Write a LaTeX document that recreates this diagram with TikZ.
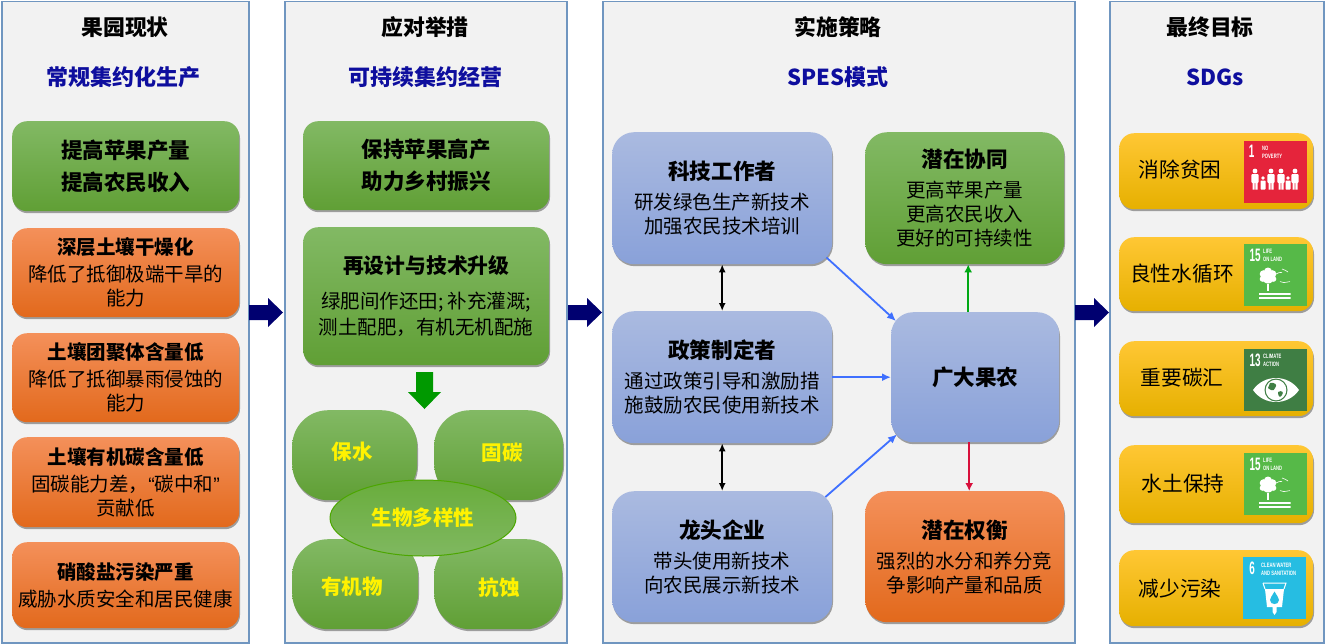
\documentclass[tikz,border=0pt]{standalone}
\usepackage{fontspec}
\setmainfont{Noto Sans CJK SC}
\newfontfamily\sdgbig[FakeStretch=0.55]{Liberation Sans}
\newfontfamily\sdgsmall[FakeStretch=0.66]{Liberation Sans}
\newfontfamily\sdgfont{Liberation Sans}
\usetikzlibrary{shadows,arrows.meta,shapes.geometric,calc}
\definecolor{panelfill}{HTML}{F2F2F2}
\definecolor{panelline}{HTML}{7096C0}
\definecolor{navyarrow}{HTML}{000070}
\definecolor{headblue}{HTML}{0E0E9E}
\definecolor{linkblue}{HTML}{3F70FF}
\definecolor{linkgreen}{HTML}{00A814}
\definecolor{linkred}{HTML}{D8103C}
\tikzset{
  panel/.style={draw=panelline,line width=1.6pt,fill=panelfill,inner sep=0pt},
  softshadow/.style={drop shadow={shadow xshift=0.8pt,shadow yshift=-2pt,opacity=.35,fill=black}},
  basebox/.style={rounded corners=15pt,softshadow,inner sep=0pt,align=center,text=black,font=\fontsize{19.5}{24}\selectfont},
  grn/.style={basebox,top color=grnT,middle color=grnM,bottom color=grnB},
  grnbig/.style={grn,font=\bfseries\fontsize{21.5}{32}\selectfont},
  org/.style={basebox,top color=orgT,middle color=orgM,bottom color=orgB},
  blu/.style={basebox,rounded corners=22pt,top color=bluT,middle color=bluM,bottom color=bluB},
  yel/.style={basebox,rounded corners=15pt,top color=yelT,middle color=yelM,bottom color=yelB},
  blob/.style={grn,rounded corners=36pt},
  title/.style={font=\bfseries\fontsize{21.8}{24}\selectfont,text=black,inner sep=0pt},
  subtitle/.style={font=\bfseries\fontsize{22}{24}\selectfont,text=headblue,inner sep=0pt},
  yeltext/.style={font=\bfseries\fontsize{20.5}{24}\selectfont,text=yellow,inner sep=0pt},
  goaltext/.style={font=\fontsize{20.7}{24}\selectfont,text=black,inner sep=0pt},
  iconbox/.style={inner sep=0pt,anchor=north west,minimum width=63pt,minimum height=62pt},
  bignum/.style={font=\sdgbig\bfseries\fontsize{18}{18}\selectfont,text=white,inner sep=0pt},
  smalltxt/.style={font=\sdgsmall\bfseries\fontsize{6.3}{7.8}\selectfont,text=white,inner sep=0pt,align=left,anchor=west},
  blink/.style={draw=linkblue,line width=1.8pt,-{Latex[length=9pt,width=8pt]}},
  klink/.style={draw=black,line width=1.6pt,{Latex[length=8pt,width=7pt]}-{Latex[length=8pt,width=7pt]}},
  glink/.style={draw=linkgreen,line width=1.8pt,-{Latex[length=8pt,width=8pt]}},
  rlink/.style={draw=linkred,line width=1.8pt,-{Latex[length=8pt,width=8pt]}},
}
\definecolor{grnT}{HTML}{82B964}
\definecolor{grnM}{HTML}{69AD3C}
\definecolor{grnB}{HTML}{609F35}
\definecolor{orgT}{HTML}{F4905A}
\definecolor{orgM}{HTML}{F27D30}
\definecolor{orgB}{HTML}{E2691C}
\definecolor{bluT}{HTML}{AABAE0}
\definecolor{bluM}{HTML}{98ACDC}
\definecolor{bluB}{HTML}{89A1D9}
\definecolor{yelT}{HTML}{FFC734}
\definecolor{yelM}{HTML}{FFC50C}
\definecolor{yelB}{HTML}{E6B000}
\definecolor{sdgred}{HTML}{E5243B}
\definecolor{sdgland}{HTML}{56B948}
\definecolor{sdgclimate}{HTML}{3F7E44}
\definecolor{sdgwater}{HTML}{26BDE2}
\newcommand\bx[7]{\node[#1,anchor=north west,minimum width={(#5-#3)*1pt},minimum height={(#6-#4)*1pt}] (#2) at (#3,#4) {#7};}
\newcommand\pn[5]{\node[panel,anchor=north west,minimum width={(#4-#2)*1pt},minimum height={(#5-#3)*1pt}] (#1) at (#2,#3) {};}
\newcommand\navyarrowat[1]{\fill[navyarrow] (#1,305) -- (#1+19,305) -- (#1+19,298) -- (#1+34,312.5) -- (#1+19,327) -- (#1+19,320) -- (#1,320) -- cycle;}
\newcommand\landicon[3]{%
  \begin{scope}[shift={(#1,#2)}]
    \node[iconbox,fill=sdgland] (#3) at (0,0) {};
    \node[bignum] (#3num) at (11,11) {15};
    \node[smalltxt] (#3txt) at (19,11.5) {LIFE\\ON LAND};
    \fill[white] (24,33.5) circle (6) (19.5,30) circle (3.8) (28.5,30) circle (3.8) (24,27.5) circle (4) (18.5,35) circle (2.8) (29.5,35) circle (2.8);
    \fill[white] (23,40) rectangle (25,47);
    \fill[white] (15,49) rectangle (46.5,50.8) (15,53) rectangle (46.5,54.8);
    \draw[white,line width=.6pt] (32,30) -- (35,28.6) -- (38,28.4) (38,25) -- (41,26.2) -- (44,28) (36,37.6) -- (40,38.6) -- (46,37.6);
  \end{scope}}
\begin{document}
\begin{tikzpicture}[x=1pt,y=-1pt]
\useasboundingbox[fill=white] (0,0) rectangle (1325,643);
% panels
\pn{pa}{1}{0.5}{248}{642}
\pn{pb}{284}{0.5}{566}{642}
\pn{pc}{602}{0.5}{1074}{642}
\pn{pd}{1109}{0.5}{1323}{642}
% block arrows between panels
\navyarrowat{249}
\navyarrowat{568}
\navyarrowat{1075}
% titles
\node[title] (ta) at (125,27) {果园现状};
\node[subtitle] (sa) at (123,77) {常规集约化生产};
\node[title] (tb) at (425,27) {应对举措};
\node[subtitle] (sb) at (425,77) {可持续集约经营};
\node[title] (tc) at (838,27) {实施策略};
\node[subtitle] (sc) at (838,77) {SPES模式};
\node[title] (td) at (1210,27) {最终目标};
\node[subtitle] (sd) at (1215,77) {SDGs};
% panel 1
\bx{grnbig}{a0}{12}{121}{239}{211}{提高苹果产量\\提高农民收入}
\bx{org}{a1}{12}{228}{239}{317}{\textbf{深层土壤干燥化}\\[3pt]降低了抵御极端干旱的\\能力}
\bx{org}{a2}{12}{333}{239}{422}{\textbf{土壤团聚体含量低}\\[3pt]降低了抵御暴雨侵蚀的\\能力}
\bx{org}{a3}{12}{437}{239}{527}{\textbf{土壤有机碳含量低}\\[3pt]固碳能力差，{\sdgfont “}碳中和{\sdgfont ”}\\贡献低}
\bx{org}{a4}{12}{542}{239}{628}{\textbf{硝酸盐污染严重}\\[3pt]威胁水质安全和居民健康}
% panel 2
\bx{grnbig}{b0}{303}{121}{549}{210}{保持苹果高产\\助力乡村振兴}
\bx{grn}{b1}{303}{227}{549}{365}{\textbf{\fontsize{20.8}{24}\selectfont 再设计与技术升级}\\[11pt]绿肥间作还田; 补充灌溉;\\[2pt]测土配肥，有机无机配施}
\fill[green!60!black] (416,372) -- (433,372) -- (433,392) -- (441,392) -- (424.5,409) -- (408,392) -- (416,392) -- cycle;
\bx{blob}{b2}{292}{410}{417}{500}{}
\bx{blob}{b3}{434}{410}{563}{500}{}
\bx{blob}{b4}{292}{539}{418}{629}{}
\bx{blob}{b5}{434}{539}{562}{629}{}
\node[ellipse,draw=green!50!black!70!yellow,line width=1pt,top color=grnM,bottom color=grnT!90!grnM,minimum width=186pt,minimum height=76pt,inner sep=0pt] (bio) at (423,518) {};
\node[yeltext] (b2t) at (352,452) {保水};
\node[yeltext] (b3t) at (502,453) {固碳};
\node[yeltext] (b4t) at (352,587) {有机物};
\node[yeltext] (b5t) at (499,588) {抗蚀};
\node[yeltext] (biot) at (423,518) {生物多样性};
% panel 3
\bx{blu}{c0}{612}{132}{832}{264}{\textbf{\fontsize{21.6}{24}\selectfont 科技工作者}\\[6pt]研发绿色生产新技术\\加强农民技术培训}
\bx{blu}{c1}{612}{311}{832}{443}{\textbf{\fontsize{21.6}{24}\selectfont 政策制定者}\\[6pt]通过政策引导和激励措\\施鼓励农民使用新技术}
\bx{blu}{c2}{612}{491}{832}{622}{\textbf{\fontsize{21.6}{24}\selectfont 龙头企业}\\[6pt]带头使用新技术\\向农民展示新技术}
\bx{grn,rounded corners=22pt}{c3}{865}{132}{1064}{264}{\textbf{\fontsize{21.6}{24}\selectfont 潜在协同}\\[6pt]更高苹果产量\\更高农民收入\\更好的可持续性}
\bx{blu}{c4}{891}{312}{1059}{442}{\textbf{\fontsize{21.6}{24}\selectfont 广大果农}}
\bx{org,rounded corners=22pt}{c5}{865}{491}{1064}{622}{\textbf{\fontsize{21.6}{24}\selectfont 潜在权衡}\\[6pt]强烈的水分和养分竞\\争影响产量和品质}
\draw[klink] (c0.south) -- (c1.north);
\draw[klink] (c1.south) -- (c2.north);
\draw[blink] ($(c0.south east)+(-6,-7)$) -- ($(c4.north west)+(5,9)$);
\draw[blink] (c1.east |- c4.west) -- (c4.west);
\draw[blink] ($(c2.north east)+(-7,6)$) -- ($(c4.south west)+(6,-8)$);
\draw[glink] ($(c4.north)+(-7,0)$) -- ($(c3.south)+(3.5,0)$);
\draw[rlink] ($(c4.south)+(-6,0)$) -- ($(c5.north)+(4.5,0)$);
% panel 4
\bx{yel}{d0}{1119}{133}{1313}{209}{}
\bx{yel}{d1}{1119}{237}{1313}{311}{}
\bx{yel}{d2}{1119}{341}{1313}{416}{}
\bx{yel}{d3}{1119}{445}{1313}{523}{}
\bx{yel}{d4}{1119}{550}{1313}{626}{}
\node[goaltext] (d0t) at (1180,170) {消除贫困};
\node[goaltext] (d1t) at (1182,274) {良性水循环};
\node[goaltext] (d2t) at (1182,378) {重要碳汇};
\node[goaltext] (d3t) at (1183,484) {水土保持};
\node[goaltext] (d4t) at (1180,589) {减少污染};
% SDG 1
\begin{scope}[shift={(1244,141)}]
  \node[iconbox,fill=sdgred] (g1) at (0,0) {};
  \node[bignum] (g1num) at (7.5,10.5) {1};
  \node[smalltxt] (g1txt) at (18,11.5) {NO\\POVERTY};
  \foreach \px in {11,27,37,51}{
    \fill[white] (\px,30) circle (2.4);
    \fill[white,rounded corners=1pt] (\px-3.6,33) rectangle (\px+3.6,42);
    \fill[white] (\px-2.5,42) rectangle (\px-0.3,48.5) (\px+0.3,42) rectangle (\px+2.5,48.5);
  }
  \foreach \px in {19,44}{
    \fill[white] (\px,37) circle (1.9);
    \fill[white,rounded corners=.6pt] (\px-2.5,39.5) rectangle (\px+2.5,48.5);
  }
\end{scope}
% SDG 15 (twice)
\landicon{1244}{244}{g2}
\landicon{1244}{453}{g4}
% SDG 13
\begin{scope}[shift={(1244,349)}]
  \node[iconbox,fill=sdgclimate] (g3) at (0,0) {};
  \node[bignum] (g3num) at (11,11) {13};
  \node[smalltxt] (g3txt) at (19,11.5) {CLIMATE\\ACTION};
  \fill[white] (9,41) .. controls (20,25) and (44,25) .. (55,41) .. controls (44,57) and (20,57) .. (9,41) -- cycle;
  \fill[sdgclimate] (32,41) circle (11.5);
  \fill[white] (32,41) circle (10.3);
  \fill[sdgclimate] (26,34) .. controls (31,33) and (34,36) .. (31,39) .. controls (30,43) and (26,41) .. (24,39) -- cycle;
  \fill[sdgclimate] (34,43) .. controls (38,41) and (40,43) .. (38,46) .. controls (36,49) and (34,48) .. cycle;
\end{scope}
% SDG 6
\begin{scope}[shift={(1243,557)}]
  \node[iconbox,fill=sdgwater] (g5) at (0,0) {};
  \node[bignum] (g5num) at (9,11) {6};
  \node[smalltxt] (g5txt) at (18,12) {CLEAN WATER\\AND SANITATION};
  \draw[white,line width=1pt] (20,26) -- (43,26) -- (41,32);
  \draw[white,line width=1pt] (20,26) -- (22,32);
  \fill[white] (22,32) -- (41,32) -- (39,50) -- (33.5,50) -- (33.5,55) -- (31.5,58) -- (29.5,55) -- (29.5,50) -- (24,50) -- cycle;
  \fill[sdgwater] (31.5,34.5) .. controls (34,39) and (36,41) .. (36,43) .. controls (36,46) and (33.5,47) .. (31.5,47) .. controls (29.5,47) and (27,46) .. (27,43) .. controls (27,41) and (29,39) .. (31.5,34.5) -- cycle;
\end{scope}
\end{tikzpicture}
\end{document}
